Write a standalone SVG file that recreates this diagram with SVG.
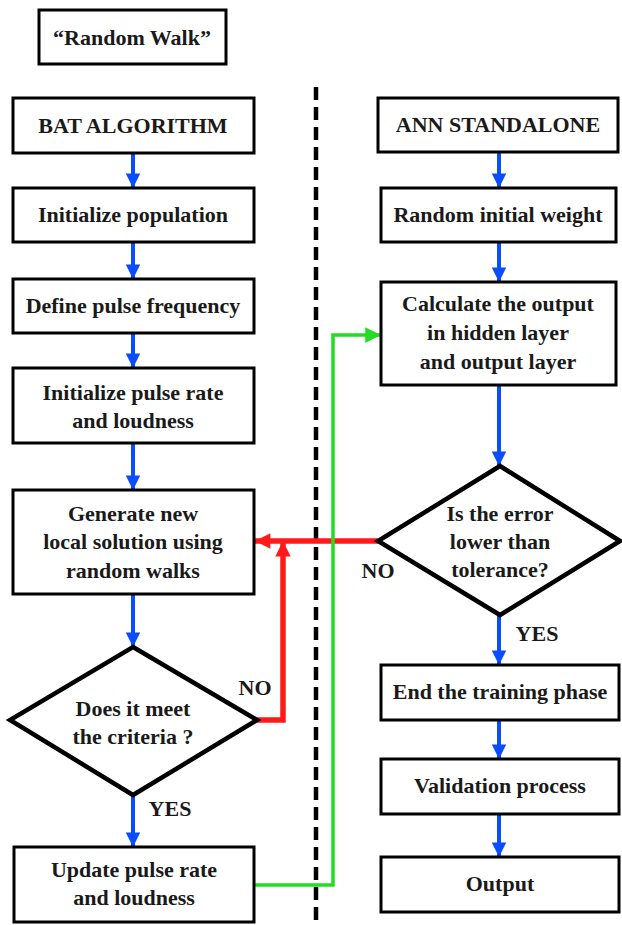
<svg xmlns="http://www.w3.org/2000/svg" width="622" height="925" viewBox="0 0 622 925">
<defs>
<style>
.box{fill:#fff;stroke:#000;stroke-width:3}
.dia{fill:#fff;stroke:#000;stroke-width:4.5;stroke-linejoin:miter}
text{font-family:"Liberation Serif","Times New Roman",serif;font-weight:bold;font-size:22px;text-anchor:middle;fill:#1a1a1a}
.blue{stroke:#0a4dff;stroke-width:4;fill:none}
.red{stroke:#ff1a1a;stroke-width:5.5;fill:none}
.green{stroke:#22dd22;stroke-width:3.5;fill:none}
</style>
<marker id="ab" viewBox="0 0 10 10" refX="10" refY="5" markerWidth="4" markerHeight="3.6" orient="auto" markerUnits="strokeWidth"><path d="M0,0L10,5L0,10z" fill="#0a4dff"/></marker>
<marker id="ar" viewBox="0 0 10 10" refX="10" refY="5" markerWidth="3" markerHeight="2.8" orient="auto" markerUnits="strokeWidth"><path d="M0,0L10,5L0,10z" fill="#ff1a1a"/></marker>
<marker id="ag" viewBox="0 0 10 10" refX="10" refY="5" markerWidth="4.5" markerHeight="4.5" orient="auto" markerUnits="strokeWidth"><path d="M0,0L10,5L0,10z" fill="#22dd22"/></marker>
</defs>
<line x1="316" y1="87" x2="316" y2="925" stroke="#000" stroke-width="4.5" stroke-dasharray="13,7"/>
<g id="connectors">
<path class="blue" d="M133,153V188" marker-end="url(#ab)"/>
<path class="blue" d="M133,242V279" marker-end="url(#ab)"/>
<path class="blue" d="M133,333V368" marker-end="url(#ab)"/>
<path class="blue" d="M133,443V490" marker-end="url(#ab)"/>
<path class="blue" d="M133,594V647" marker-end="url(#ab)"/>
<path class="blue" d="M133,795V847" marker-end="url(#ab)"/>
<path class="blue" d="M499,152V188" marker-end="url(#ab)"/>
<path class="blue" d="M499,242V282" marker-end="url(#ab)"/>
<path class="blue" d="M499,385V466" marker-end="url(#ab)"/>
<path class="blue" d="M499,615V665" marker-end="url(#ab)"/>
<path class="blue" d="M499,720V759" marker-end="url(#ab)"/>
<path class="blue" d="M499,814V857" marker-end="url(#ab)"/>
<path class="red" d="M378,541H255" marker-end="url(#ar)"/>
<path class="red" d="M257,720H283V541" marker-end="url(#ar)"/>
<path class="green" d="M254,885H333V335H381" marker-end="url(#ag)"/>
<text x="378" y="578">NO</text>
<text x="255" y="695">NO</text>
<text x="170" y="816">YES</text>
<text x="537" y="641">YES</text>
</g>
<g id="random-walk"><rect class="box" x="39" y="10" width="187" height="54"/><text x="132" y="45">“Random Walk”</text></g>
<g id="bat"><rect class="box" x="13" y="98" width="241" height="55"/><text x="133" y="133">BAT ALGORITHM</text></g>
<g id="init-pop"><rect class="box" x="13" y="188" width="241" height="54"/><text x="133" y="222">Initialize population</text></g>
<g id="define"><rect class="box" x="13" y="279" width="241" height="54"/><text x="133" y="313">Define pulse frequency</text></g>
<g id="init-rate"><rect class="box" x="13" y="368" width="241" height="75"/><text x="133" y="400">Initialize pulse rate</text><text x="133" y="428">and loudness</text></g>
<g id="generate"><rect class="box" x="13" y="490" width="241" height="104"/><text x="133" y="521">Generate new</text><text x="133" y="549">local solution using</text><text x="133" y="578">random walks</text></g>
<g id="criteria"><polygon class="dia" points="133,647 257,720 133,795 10,720"/><text x="133" y="716">Does it meet</text><text x="133" y="744">the criteria ?</text></g>
<g id="update"><rect class="box" x="14" y="847" width="240" height="75"/><text x="134" y="877">Update pulse rate</text><text x="134" y="905">and loudness</text></g>
<g id="ann"><rect class="box" x="378" y="98" width="240" height="54"/><text x="498" y="132">ANN STANDALONE</text></g>
<g id="random-weight"><rect class="box" x="381" y="188" width="235" height="54"/><text x="498" y="222">Random initial weight</text></g>
<g id="calculate"><rect class="box" x="381" y="282" width="235" height="103"/><text x="498" y="311">Calculate the output</text><text x="498" y="340">in hidden layer</text><text x="498" y="369">and output layer</text></g>
<g id="error"><polygon class="dia" points="500,466 620,541 500,615 378,541"/><text x="500" y="521">Is the error</text><text x="500" y="549">lower than</text><text x="500" y="577">tolerance?</text></g>
<g id="end-training"><rect class="box" x="381" y="665" width="238" height="55"/><text x="500" y="699">End the training phase</text></g>
<g id="validation"><rect class="box" x="381" y="759" width="238" height="55"/><text x="500" y="793">Validation process</text></g>
<g id="output"><rect class="box" x="381" y="857" width="238" height="55"/><text x="500" y="891">Output</text></g>
</svg>
